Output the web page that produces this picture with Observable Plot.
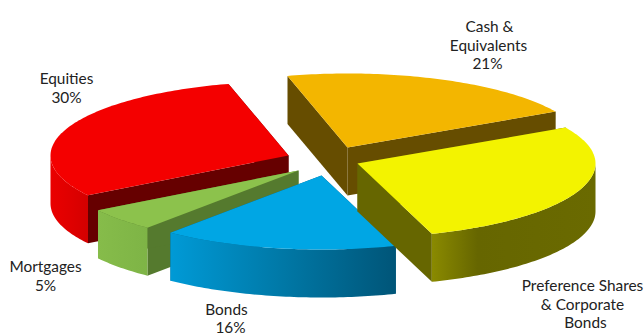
<!DOCTYPE html>
<html>
<head>
<meta charset="utf-8">
<style>
  html, body { margin: 0; padding: 0; background: #fff; }
  svg { display: block; }
</style>
<script src="https://cdn.jsdelivr.net/npm/d3@7"></script>
<script src="https://cdn.jsdelivr.net/npm/@observablehq/plot@0.6"></script>
</head>
<body>
<script>
// Asset allocation, clockwise from the back of the pie
const categories = ["Cash & Equivalents", "Preference Shares & Corporate Bonds", "Bonds", "Mortgages", "Equities"];
const shares = [21, 28, 16, 5, 30];

// Face colours per slice
const topColors = ["#f3b600", "#f3f300", "#00a6e4", "#8cc24c", "#f40000"];
const cutColors = ["#664d00", "#666600", "#005f86", "#557a2e", "#660000"];
const wallStart = ["#f3b600", "#8a8a00", "#009ad6", "#86bc4a", "#ea0000"];
const wallMid = ["#d0a000", "#666600", "#0078a6", "#82b848", "#e00000"];
const wallEnd = ["#a88000", "#6a6a00", "#005578", "#7eb446", "#d40000"];
const wallMidStop = [0.5, 0.28, 0.5, 0.5, 0.5];

// How far each slice is pulled from the pie centre
const pullX = [24, 34, -2, -25, -35];
const pullY = [-14, 2, 14, 9, -6];

// Text labels, one entry per line
const labelLines = ["Cash &", "Equivalents", `${shares[0]}%`, "Equities", `${shares[4]}%`, "Mortgages", `${shares[3]}%`,
  "Bonds", `${shares[2]}%`, "Preference Shares", "& Corporate", "Bonds"];
const labelX = [489, 488, 487, 66, 66, 45, 45, 226, 230, 582, 582, 585];
const labelY = [27, 45.5, 64, 79, 97.5, 267, 286, 310, 327.5, 286, 305, 322.5];

const width = 644, height = 336;
const centerX = 323, centerY = 161, radiusX = 238, radiusY = 74, depth = 48;
const firstAngle = -14.6 * Math.PI / 180;

const slices = d3.pie().sort(null).value(d => d)
  .startAngle(firstAngle).endAngle(firstAngle + 2 * Math.PI)(shares);

// Angles run clockwise from the top of the ellipse
const rim = (i, a, drop = 0) => ({
  x: centerX + pullX[i] + radiusX * Math.sin(a),
  y: centerY + pullY[i] - radiusY * Math.cos(a) + drop
});
const apex = (i, drop = 0) => ({x: centerX + pullX[i], y: centerY + pullY[i] + drop});
const arcPoints = (i, a0, a1, drop = 0) => {
  const n = Math.max(2, Math.ceil((a1 - a0) / (Math.PI / 180)));
  return d3.range(n + 1).map(k => rim(i, a0 + (a1 - a0) * k / n, drop));
};

const face = (points, fill) => Plot.line(points, {x: "x", y: "y", fill, stroke: "none", curve: "linear-closed"});

function sliceMarks(i) {
  const {startAngle: a0, endAngle: a1} = slices[i];
  const cut = a => [apex(i), rim(i, a), rim(i, a, depth), apex(i, depth)];
  const marks = [face(cut(a0), cutColors[i]), face(cut(a1), cutColors[i])];
  // Only the lower half of the rim faces the viewer
  const w0 = Math.max(a0, Math.PI / 2), w1 = Math.min(a1, 3 * Math.PI / 2);
  if (w1 > w0) {
    marks.push(face([...arcPoints(i, w0, w1), ...arcPoints(i, w0, w1, depth).reverse()], `url(#wall-${i})`));
  }
  marks.push(face([apex(i), ...arcPoints(i, a0, a1)], topColors[i]));
  return marks;
}

// Wall shading runs left to right across each outer wall
function wallGradients() {
  const defs = d3.create("svg:defs");
  shares.forEach((_, i) => {
    const g = defs.append("linearGradient").attr("id", `wall-${i}`).attr("x1", 0).attr("x2", 1).attr("y1", 0).attr("y2", 0);
    [[0, wallStart[i]], [wallMidStop[i], wallMid[i]], [1, wallEnd[i]]]
      .forEach(([o, c]) => g.append("stop").attr("offset", o).attr("stop-color", c));
  });
  return defs.node();
}

const drawOrder = [0, 4, 3, 2, 1];

const chart = Plot.plot({
  width, height,
  margin: 0,
  x: {domain: [0, width], range: [0, width], axis: null},
  y: {domain: [0, height], range: [0, height], axis: null},
  style: {background: "#fff"},
  marks: [
    wallGradients,
    ...drawOrder.flatMap(sliceMarks),
    Plot.text(labelLines, {
      x: (_, i) => labelX[i],
      y: (_, i) => labelY[i],
      text: d => d,
      fontSize: 15.4,
      fontFamily: "Lato",
      fill: "#222"
    })
  ]
});
document.body.append(chart);
</script>
</body>
</html>
